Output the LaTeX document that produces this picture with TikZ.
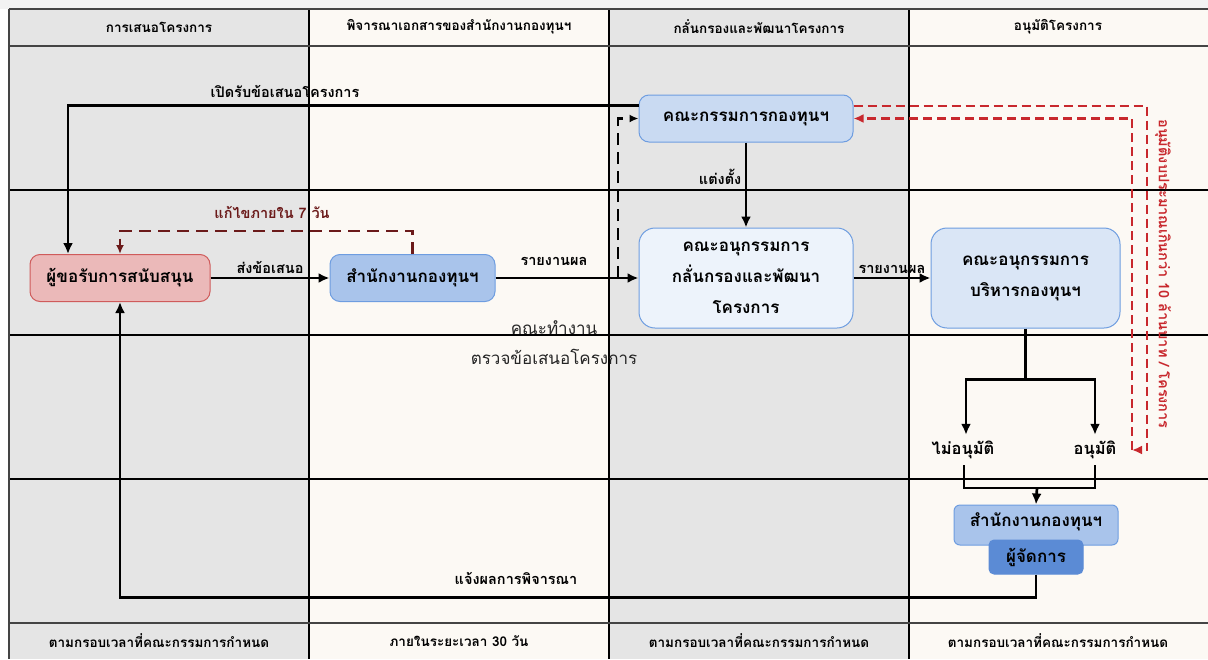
\documentclass[tikz,border=0pt]{standalone}
\usepackage{fontspec}
\newfontfamily\thaifont[Script=Thai]{Loma}
\usetikzlibrary{arrows.meta}
\definecolor{lanegray}{HTML}{E5E5E5}
\definecolor{lanecream}{HTML}{FCF9F4}
\definecolor{redfill}{HTML}{EBB9B9}
\definecolor{redline}{HTML}{CF5B5B}
\definecolor{bluefill}{HTML}{A9C4EB}
\definecolor{blueline}{HTML}{6E9DE0}
\definecolor{paleblue}{HTML}{EDF3FB}
\definecolor{lightblue}{HTML}{DAE6F6}
\definecolor{midblue}{HTML}{C9DAF2}
\definecolor{mgrblue}{HTML}{5B8BD5}
\definecolor{darkred}{HTML}{6B1A1A}
\definecolor{flagred}{HTML}{C8282D}
\definecolor{rule}{HTML}{444444}
\tikzset{
  box/.style={draw=blueline, rounded corners=10pt, line width=1pt, align=center,
    inner sep=0pt, font=\thaifont\bfseries\fontsize{17}{31}\selectfont},
  lbl/.style={font=\thaifont\bfseries\fontsize{14.5}{16}\selectfont},
  lanetext/.style={font=\thaifont\bfseries\fontsize{13.5}{15}\selectfont},
  flow/.style={line width=2.7pt, -{Latex[length=11pt,width=10pt]}},
  redflow/.style={line width=2.5pt, flagred, dash pattern=on 9pt off 5pt,
    -{Latex[length=10pt,width=9pt]}},
}
\begin{document}
\begin{tikzpicture}[x=1pt, y=-1pt]
\useasboundingbox (0,0) rectangle (1208,659);
\fill[white] (0,0) rectangle (1208,659);
\fill[black!5] (0,0) rectangle (1208,9);
% lanes
\foreach \x/\c in {9/lanegray, 309/lanecream, 609/lanegray, 909/lanecream}
  \fill[\c] (\x,9) rectangle ++(300,650);
\foreach \y in {190, 335, 479}
  \draw[line width=1.3pt] (9,\y) -- (1208,\y);
\foreach \x in {309, 609, 909}
  \draw[line width=1.1pt] (\x,9) -- (\x,659);
\draw[rule, line width=1.8pt] (9,9) -- (1208,9);
\draw[rule, line width=1.8pt] (9,46) -- (1208,46);
\draw[rule, line width=2.2pt] (9,623) -- (1208,623);
\draw[rule, line width=2.2pt] (9,9) -- (9,659);
% lane titles
\node[lanetext] (h1) at (159,27) {การเสนอโครงการ};
\node[lanetext] (h2) at (459,27) {พิจารณาเอกสารของสำนักงานกองทุนฯ};
\node[lanetext] (h3) at (759,27) {กลั่นกรองและพัฒนาโครงการ};
\node[lanetext] (h4) at (1058,27) {อนุมัติโครงการ};
\node[lanetext] (f1) at (159,641) {ตามกรอบเวลาที่คณะกรรมการกำหนด};
\node[lanetext] (f2) at (459,641) {ภายในระยะเวลา 30 วัน};
\node[lanetext] (f3) at (759,641) {ตามกรอบเวลาที่คณะกรรมการกำหนด};
\node[lanetext] (f4) at (1058,641) {ตามกรอบเวลาที่คณะกรรมการกำหนด};
% boxes
\node[box, fill=redfill, draw=redline, minimum width=180pt, minimum height=47pt] (applicant) at (120,278) {ผู้ขอรับการสนับสนุน};
\node[box, fill=bluefill, minimum width=165pt, minimum height=47pt] (office) at (412.5,278) {สำนักงานกองทุนฯ};
\node[box, fill=midblue, minimum width=214pt, minimum height=47pt] (kgk) at (746,118.5) {คณะกรรมการกองทุนฯ};
\node[box, fill=paleblue, minimum width=214pt, minimum height=100pt, rounded corners=16pt] (screen) at (746,278) {คณะอนุกรรมการ\\กลั่นกรองและพัฒนา\\โครงการ};
\node[box, fill=lightblue, minimum width=189pt, minimum height=100pt, rounded corners=16pt] (board) at (1025.5,278) {คณะอนุกรรมการ\\บริหารกองทุนฯ};
\node[box, fill=bluefill, rounded corners=6pt, minimum width=164pt, minimum height=40pt, text depth=10pt] (office2) at (1036,525) {สำนักงานกองทุนฯ};
\node[box, fill=mgrblue, draw=mgrblue, rounded corners=5pt, minimum width=94pt, minimum height=34pt] (mgr) at (1036,557) {ผู้จัดการ};
\node[lbl, font=\thaifont\bfseries\fontsize{16.5}{18}\selectfont, minimum height=30pt] (reject) at (963,450) {ไม่อนุมัติ};
\node[lbl, font=\thaifont\bfseries\fontsize{16.5}{18}\selectfont, minimum height=30pt] (approve) at (1095,450) {อนุมัติ};
\coordinate (tap) at (618,278);
\coordinate (join) at (1037,488);
\coordinate (budget) at (1132,450);
% connectors
\draw[flow] ([yshift=13pt]kgk.west) -| ([xshift=-52pt]applicant.north);
\node[lbl] (open) at (285,91) {เปิดรับข้อเสนอโครงการ};
\draw[flow] (applicant) -- node[lbl, above] (send) {ส่งข้อเสนอ} (office);
\draw[flow] (office) -- (screen);
\node[lbl] (rep1) at (554,261) {รายงานผล};
\draw[flow, dash pattern=on 12pt off 7pt, -{Latex[length=9pt,width=8pt]}] (tap) |- (kgk.west);
\draw[line width=2.5pt, darkred, dash pattern=on 12pt off 7pt, -{Latex[length=9pt,width=8pt]}] (office.north) -- ++(0,-23) -| (applicant.north);
\node[lbl, darkred] (fix) at (272,212) {แก้ไขภายใน 7 วัน};
\draw[flow] (kgk) -- node[lbl, left, pos=0.4] (appoint) {แต่งตั้ง} (screen);
\draw[flow] (screen) -- node[lbl, above] (rep2) {รายงานผล} (board);
\draw[line width=2.7pt] (board.south) -- ++(0,51) coordinate (split);
\draw[flow] (split) -| ([xshift=3pt]reject.north);
\draw[flow] (split) -| (approve.north);
\draw[line width=2.7pt] ([xshift=1pt]reject.south) |- (join) -| (approve.south);
\draw[flow] (join) -- (office2.north);
\draw[flow] (mgr.south) -- ++(0,23) -| (applicant.south);
\node[lbl] (notify) at (516,578) {แจ้งผลการพิจารณา};
\draw[redflow] ([yshift=12.5pt]kgk.east) -| ([xshift=15pt]budget) -- (budget);
\draw[redflow] (budget) |- (kgk.east);
\node[lbl, flagred, rotate=-90] (limit) at (1163,274) {อนุมัติงบประมาณเกินกว่า 10 ล้านบาท / โครงการ};
\node[font=\thaifont\fontsize{17}{19}\selectfont, text=black!85] (team1) at (554,328) {คณะทำงาน};
\node[font=\thaifont\fontsize{17}{19}\selectfont, text=black!85] (team2) at (554,357) {ตรวจข้อเสนอโครงการ};
\end{tikzpicture}
\end{document}
